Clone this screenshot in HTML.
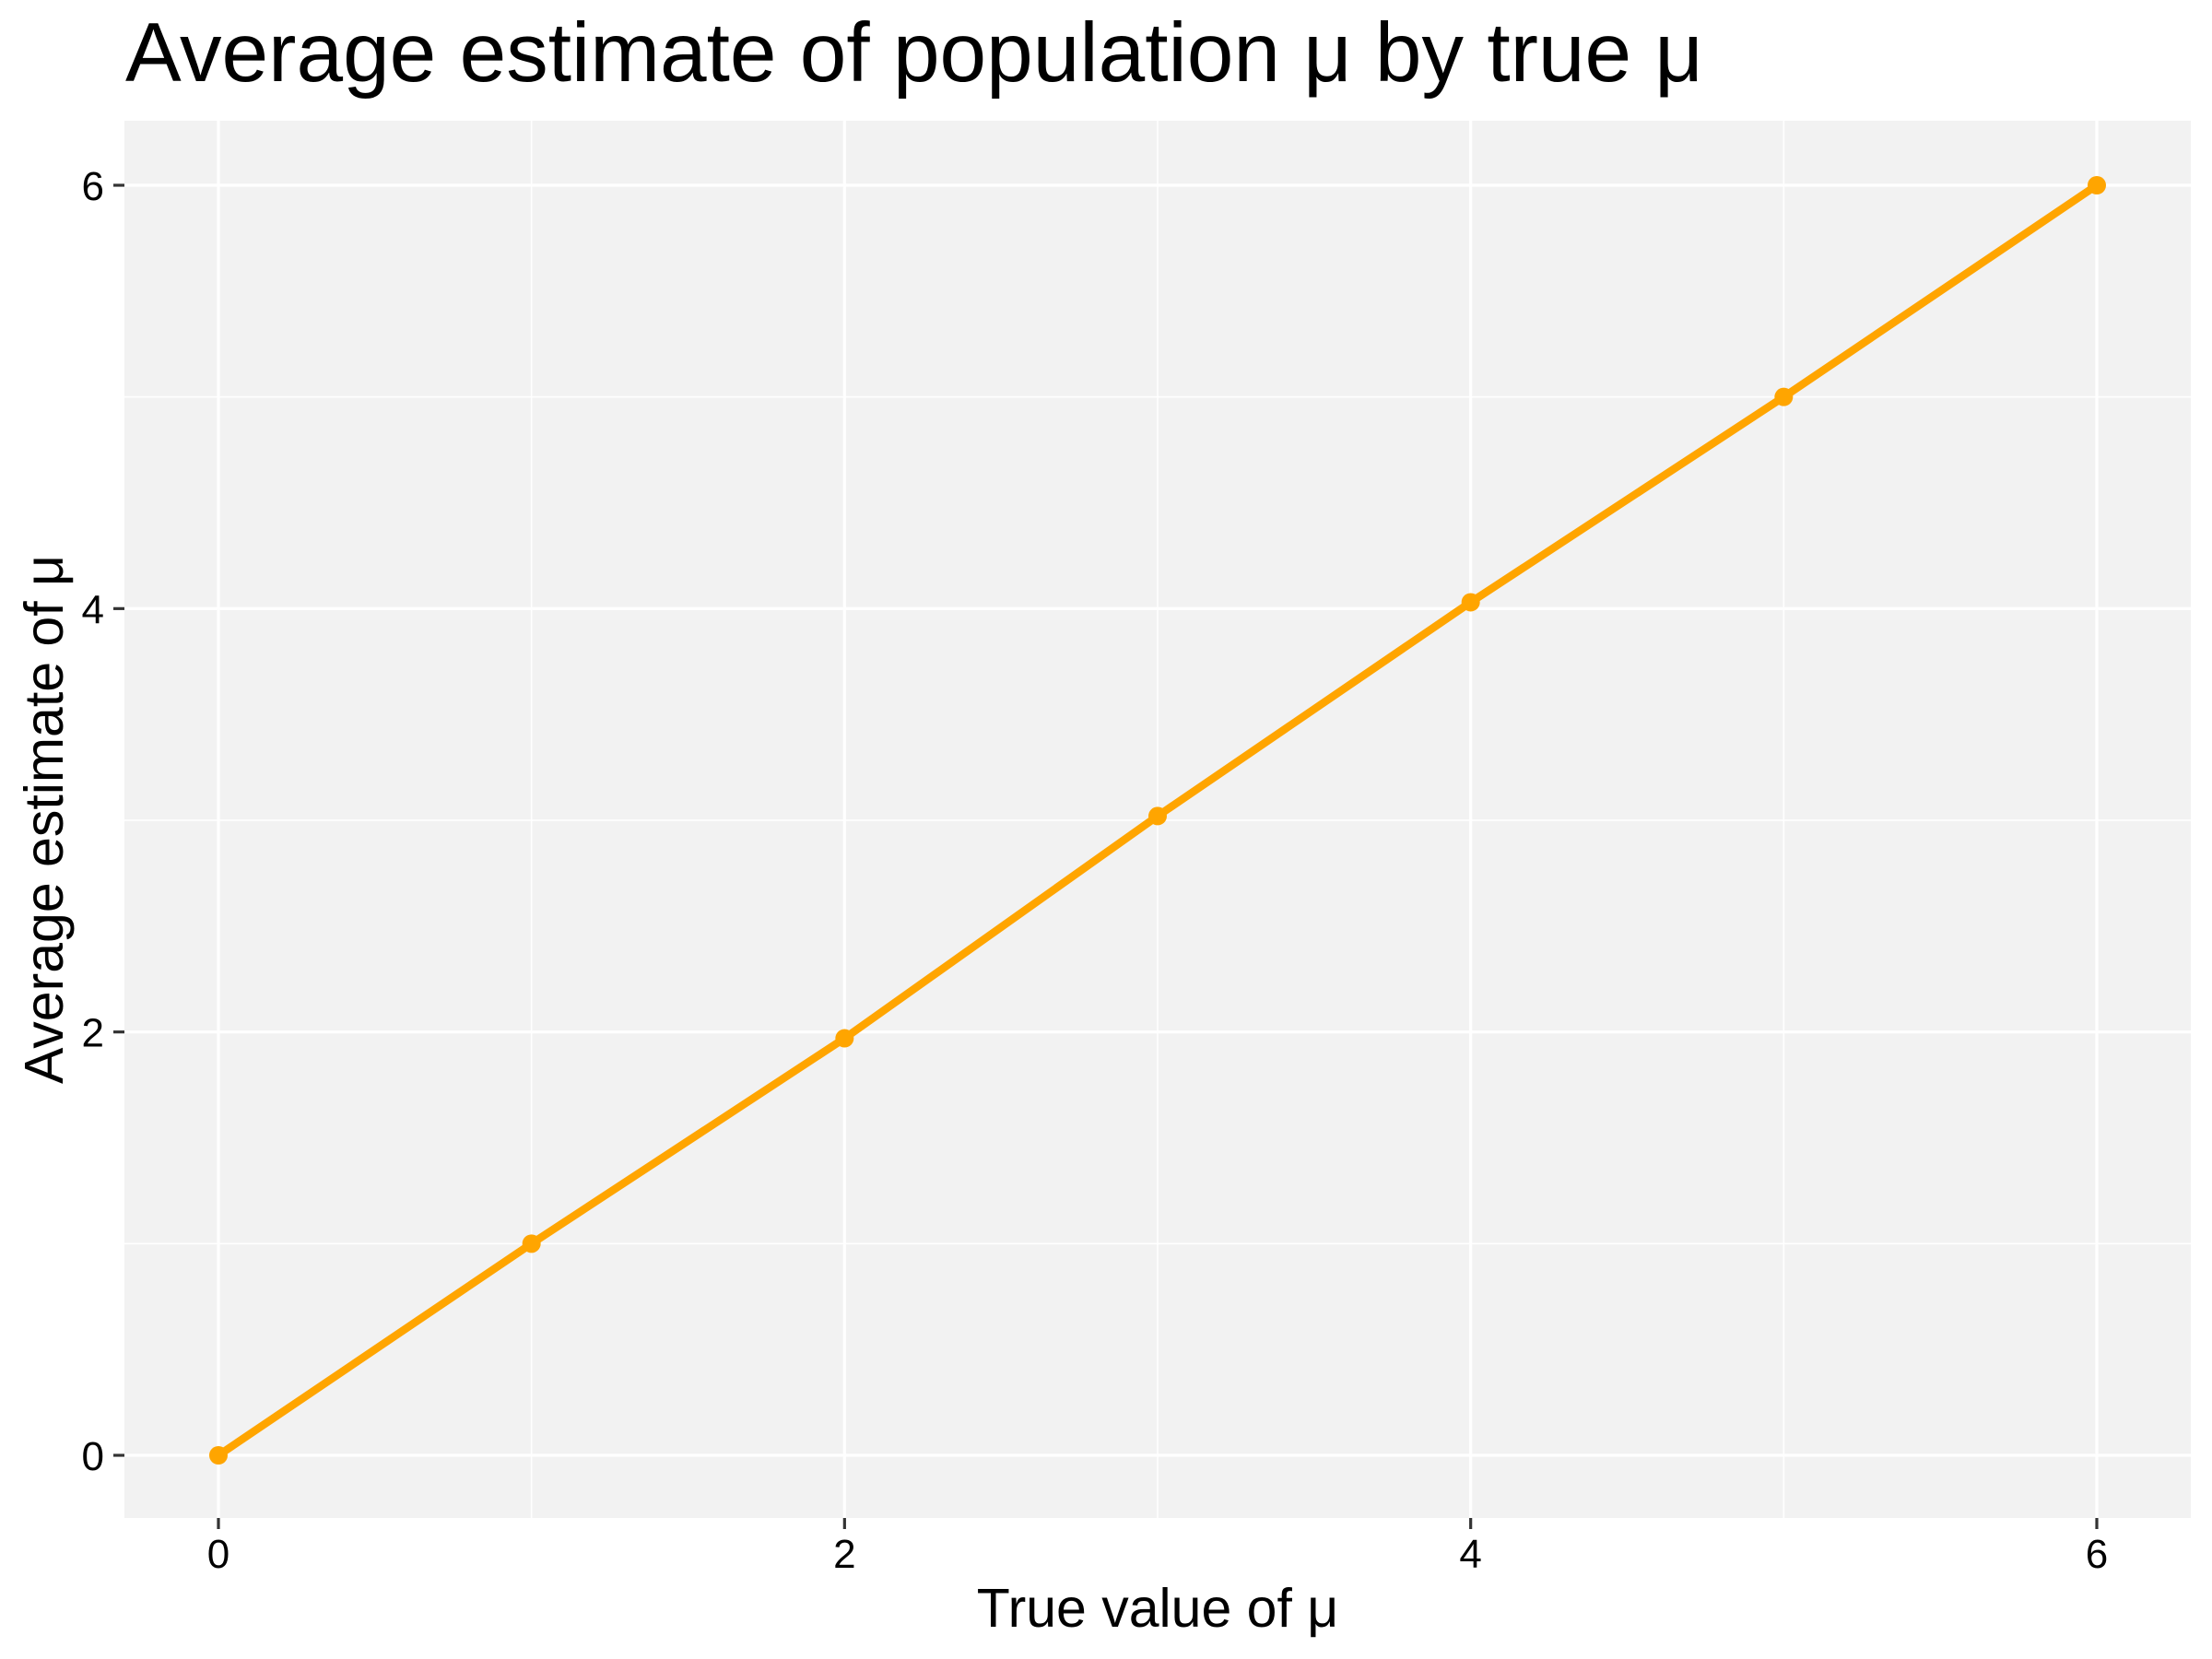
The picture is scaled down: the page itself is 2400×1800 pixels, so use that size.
<!DOCTYPE html>
<html><head><meta charset="utf-8"><style>
html,body{margin:0;padding:0;background:#fff;}
svg{display:block;font-family:"Liberation Sans",Arial,sans-serif;}
</style></head><body>
<svg id="chart" width="2400" height="1800" viewBox="0 0 2400 1800">
<text x="136" y="88" font-size="91" fill="#000">Average estimate of population μ by true μ</text>
<rect x="135" y="131" width="2242" height="1516" fill="#f2f2f2"/>
<g id="grid"></g>
<g id="axes"></g>
<g id="series"></g>
<text x="1256" y="1765" font-size="59" text-anchor="middle" fill="#000">True value of μ</text>
<text transform="translate(68,889) rotate(-90)" font-size="59" text-anchor="middle" fill="#000">Average estimate of μ</text>
</svg>
<script>
const trueMu = [0, 1, 2, 3, 4, 5, 6];
const avgEstimate = [0.0, 1.0, 1.97, 3.02, 4.03, 5.0, 6.0];
const xTicks = [0, 2, 4, 6];
const yTicks = [0, 2, 4, 6];
const xMinor = [1, 3, 5];
const yMinor = [1, 3, 5];

const NS = "http://www.w3.org/2000/svg";
const X0 = 237, X1 = 2275, Y0 = 1579, Y1 = 201;
function xs(v){ return X0 + (X1 - X0) * v / 6; }
function ys(v){ return Y0 + (Y1 - Y0) * v / 6; }
function mk(tag, attrs, parent){
  const e = document.createElementNS(NS, tag);
  for (const k in attrs) e.setAttribute(k, attrs[k]);
  parent.appendChild(e);
  return e;
}
const grid = document.getElementById('grid');
const axes = document.getElementById('axes');
const series = document.getElementById('series');

yMinor.forEach(v => {
  const l = mk('line', {x1:135, x2:2377, y1:ys(v), y2:ys(v), stroke:'#fff', 'stroke-width':1.6}, grid);
  
  
});
xMinor.forEach(v => {
  const l = mk('line', {x1:xs(v), x2:xs(v), y1:131, y2:1647, stroke:'#fff', 'stroke-width':1.6}, grid);
  
  
});
yTicks.forEach(v => {
  const l = mk('line', {x1:135, x2:2377, y1:ys(v), y2:ys(v), stroke:'#fff', 'stroke-width':3.2}, grid);
  
  
  const t = mk('line', {x1:123, x2:135, y1:ys(v), y2:ys(v), stroke:'#333', 'stroke-width':3.2}, axes);
  
  
  const tx = mk('text', {x:113, y:ys(v)+16, 'font-size':44, 'text-anchor':'end', fill:'#000'}, axes);
  tx.textContent = v;
  
  
});
xTicks.forEach(v => {
  const l = mk('line', {x1:xs(v), x2:xs(v), y1:131, y2:1647, stroke:'#fff', 'stroke-width':3.2}, grid);
  
  
  const t = mk('line', {x1:xs(v), x2:xs(v), y1:1647, y2:1659, stroke:'#333', 'stroke-width':3.2}, axes);
  
  
  const tx = mk('text', {x:xs(v), y:1701, 'font-size':44, 'text-anchor':'middle', fill:'#000'}, axes);
  tx.textContent = v;
  
  
});

const pts = trueMu.map((x, i) => xs(x) + ',' + ys(avgEstimate[i])).join(' ');
const line = mk('polyline', {points:pts, fill:'none', stroke:'#FFA500', 'stroke-width':8.5, 'stroke-linejoin':'round'}, series);


trueMu.forEach((x, i) => {
  const c = mk('circle', {cx:xs(x), cy:ys(avgEstimate[i]), r:10, fill:'#FFA500'}, series);
  
  
});
</script>
</body></html>
